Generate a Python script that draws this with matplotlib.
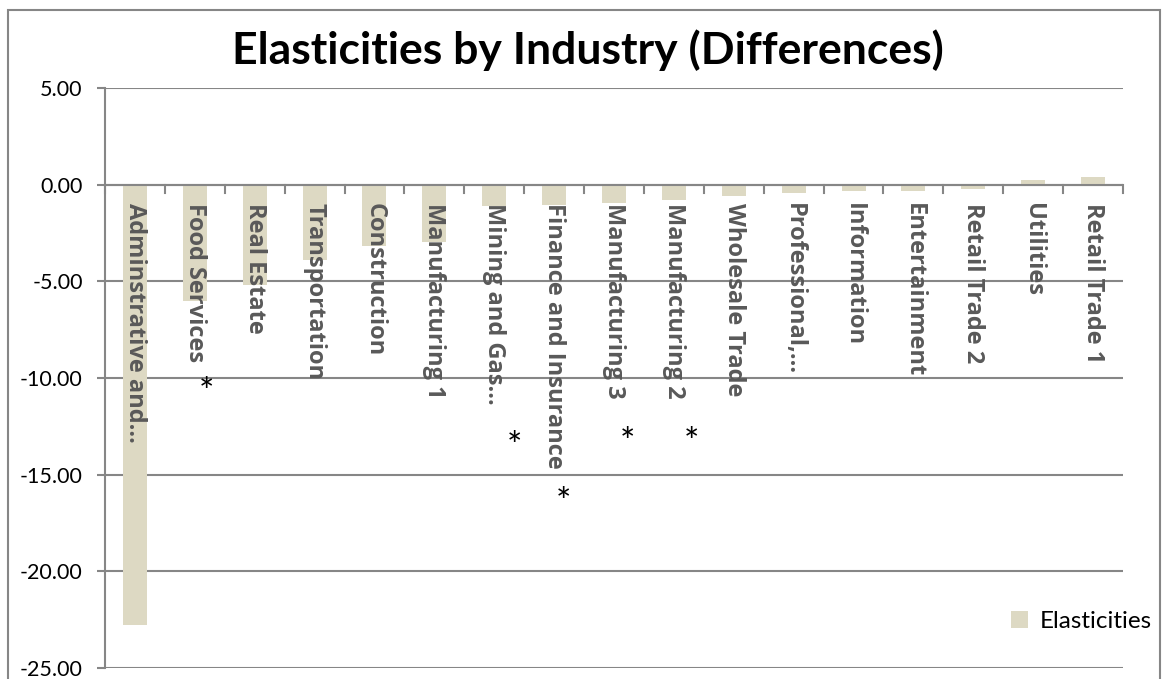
import matplotlib.pyplot as plt
from matplotlib.patches import Rectangle

# data
industries = ['Adminstrative and...', 'Food Services', 'Real Estate', 'Transportation',
              'Construction', 'Manufacturing 1', 'Mining and Gas...', 'Finance and Insurance',
              'Manufacturing 3', 'Manufacturing 2', 'Wholesale Trade', 'Professional,...',
              'Information', 'Entertainment', 'Retail Trade 2', 'Utilities', 'Retail Trade 1']
elasticities = [-22.8, -6.0, -5.2, -3.9, -3.15, -2.95, -1.1, -1.05, -0.97, -0.8,
                -0.57, -0.43, -0.35, -0.31, -0.22, 0.25, 0.38]
# significance stars: (category index, x offset, y position)
stars = [(1, 0.20, -10.8), (6, 0.34, -13.6), (7, 0.15, -16.5), (8, 0.23, -13.4), (9, 0.30, -13.4)]

yticks = [5, 0, -5, -10, -15, -20, -25]

bar_color = '#DDD9C3'
grid_color = '#868686'
label_color = '#595959'

fig = plt.figure(figsize=(11.67, 6.79), dpi=100)
ax = fig.add_axes([105 / 1167, 1 - 668 / 679, (1123 - 105) / 1167, (668 - 88) / 679])

x = range(len(industries))
ax.bar(x, elasticities, width=0.4, color=bar_color, label='Elasticities', zorder=2)

ax.set_xlim(-0.5, len(industries) - 0.5)
ax.set_ylim(-25, 5)
ax.set_yticks(yticks)
ax.set_yticklabels(['%.2f' % v for v in yticks], family='Lato', fontsize=15.5)
ax.yaxis.grid(True, color=grid_color, linewidth=1.5, zorder=0)
ax.tick_params(axis='y', length=6, width=1.5, color=grid_color, pad=10)

# x axis at zero with ticks between categories
ax.axhline(0, color=grid_color, linewidth=1.5, zorder=3)
ax.set_xticks([])
for b in [i - 0.5 for i in range(len(industries) + 1)]:
    ax.plot([b, b], [0, -0.45], color=grid_color, linewidth=1.5, zorder=3, clip_on=False)

for i, name in enumerate(industries):
    ax.text(i, -0.95, name, rotation=-90, ha='center', va='top', family=['Open Sans'],
            fontweight='bold', fontsize=17, color=label_color, zorder=4)

for i, dx, yy in stars:
    ax.text(i + dx, yy, '*', ha='center', va='center', family='Lato', fontsize=26, zorder=4)

for s in ['top', 'right', 'bottom']:
    ax.spines[s].set_visible(False)
ax.spines['left'].set_color(grid_color)
ax.spines['left'].set_linewidth(1.5)

fig.text(588 / 1167, 1 - 50 / 679, 'Elasticities by Industry (Differences)', ha='center', va='center',
         family='Lato', fontweight='bold', fontsize=32)

ax.legend(loc='lower right', bbox_to_anchor=(1.05, 0.025), frameon=False, prop={'family': 'Lato', 'size': 17.5},
          handlelength=0.7, handleheight=0.7, handletextpad=0.5)

fig.patches.append(Rectangle((8 / 1167, -0.05), (1160 - 8) / 1167, 1.05 - 10 / 679, transform=fig.transFigure,
                             fill=False, edgecolor=grid_color, linewidth=1.5))

fig.savefig('out.png', dpi=100)
